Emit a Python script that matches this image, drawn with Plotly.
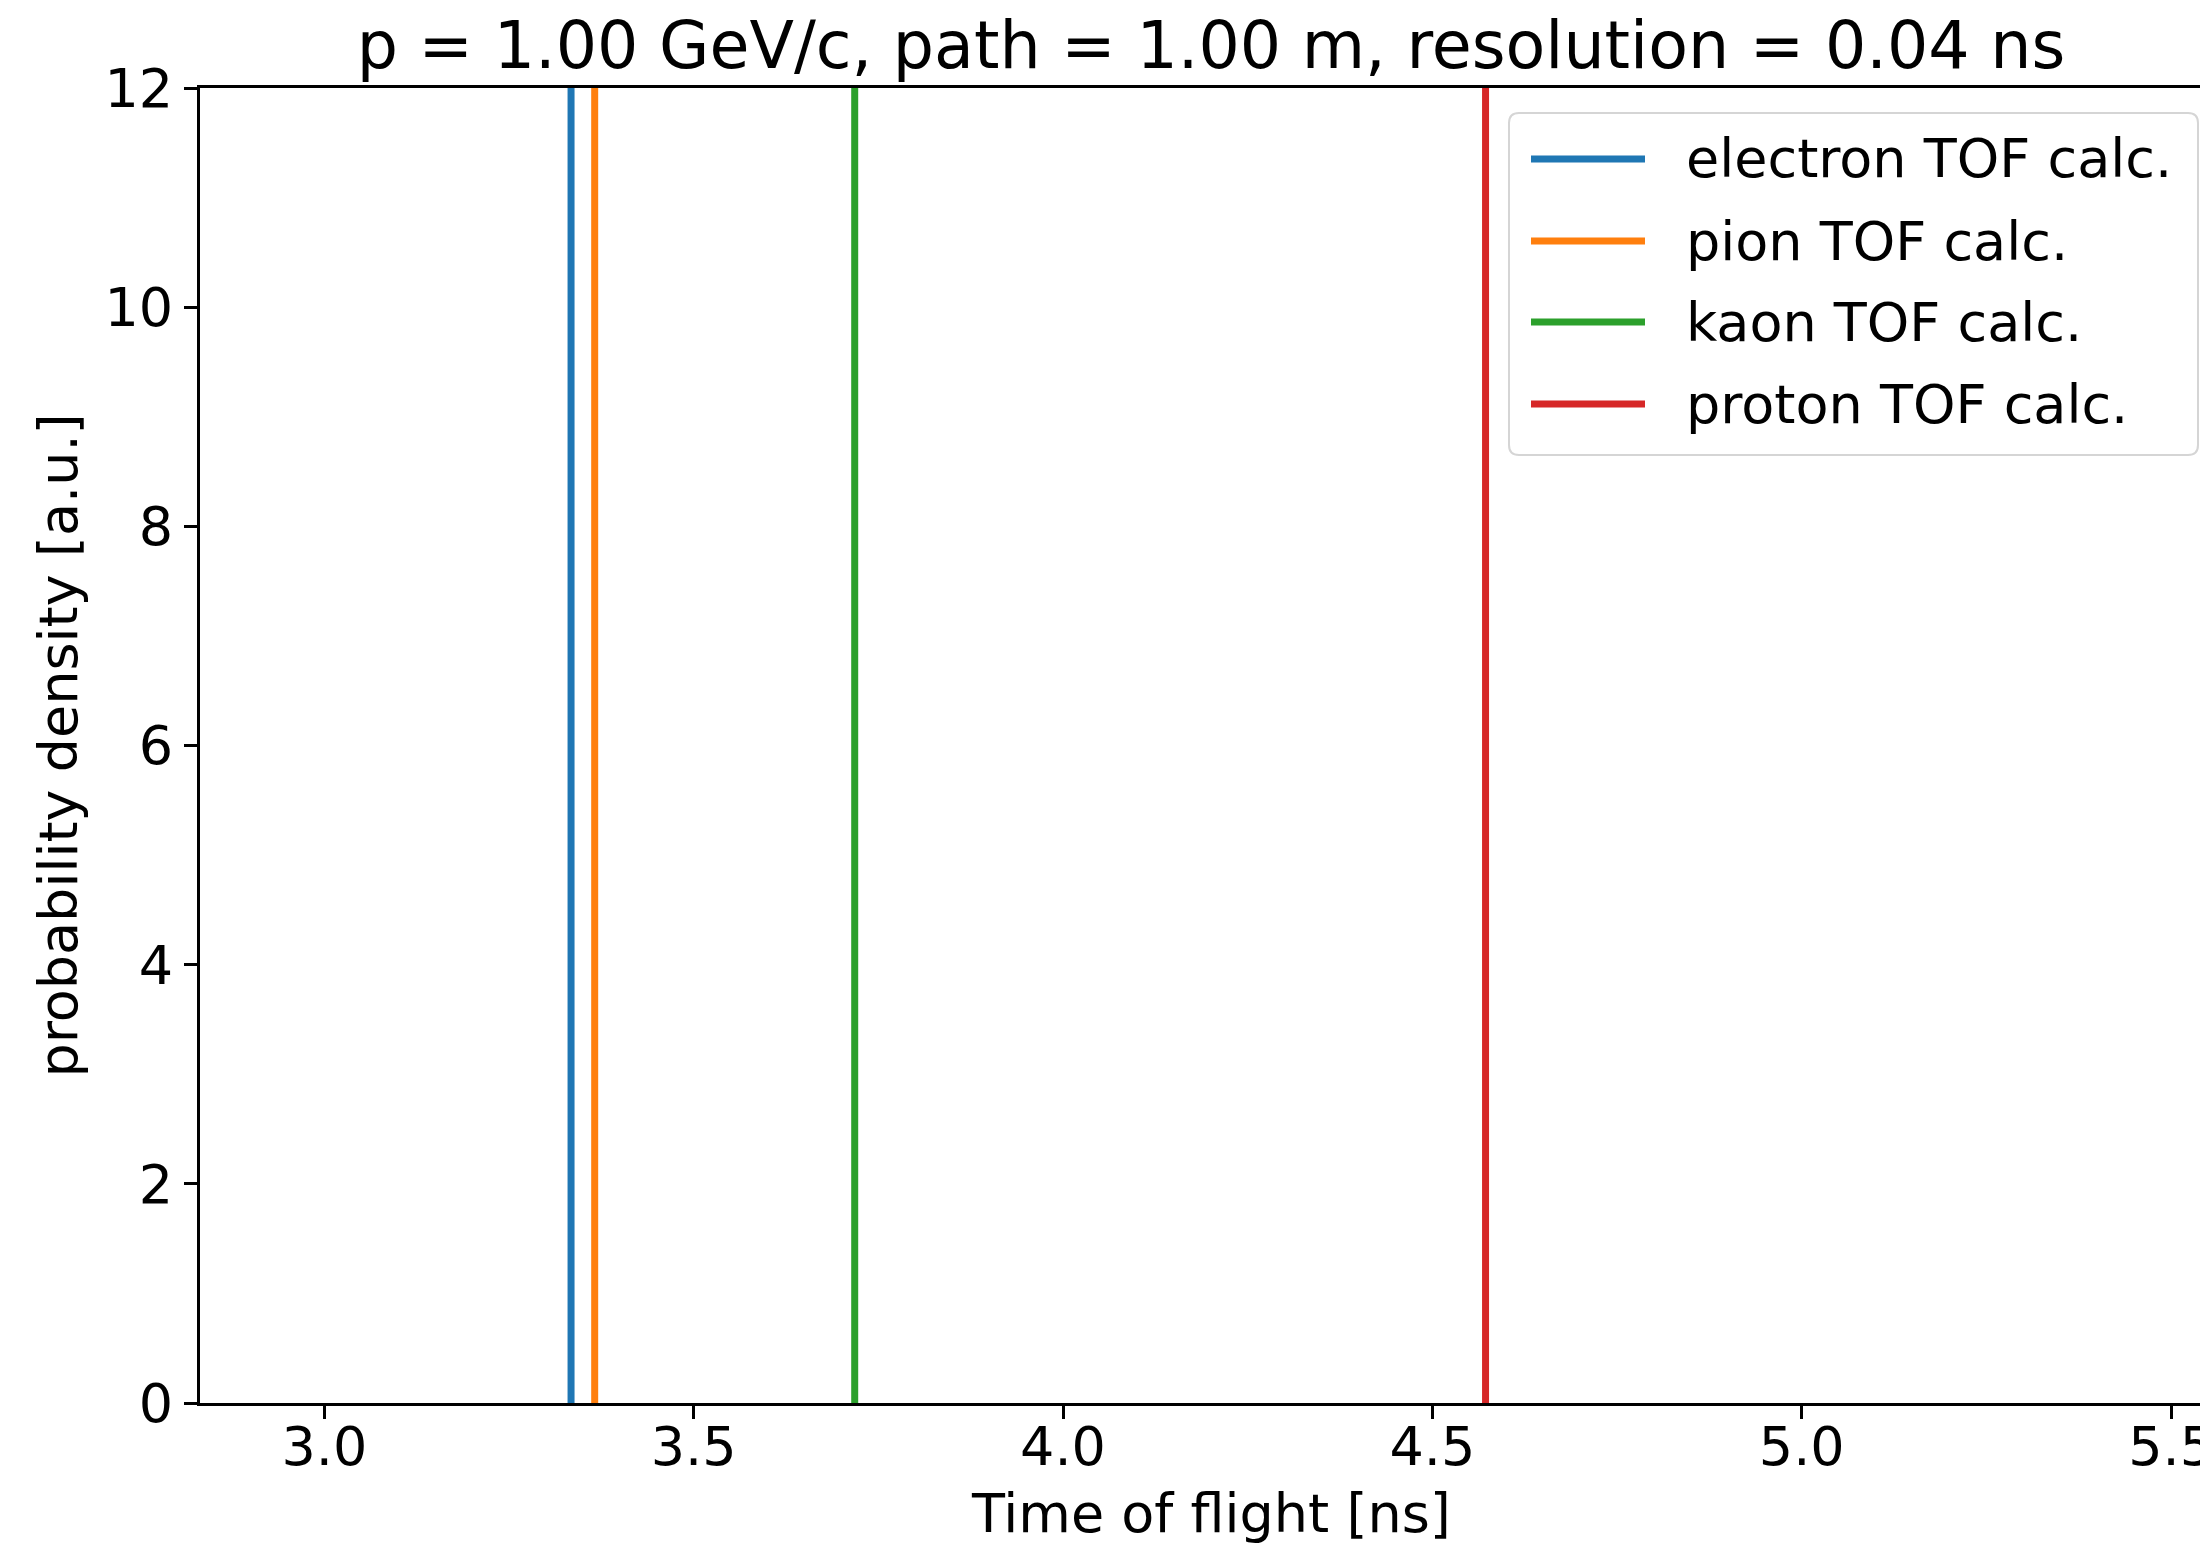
import plotly.graph_objects as go

# ---- data ----
particles = ["electron", "pion", "kaon", "proton"]
tof_ns = [3.334, 3.366, 3.718, 4.572]
line_colors = ["#1f77b4", "#ff7f0e", "#2ca02c", "#d62728"]
legend_labels = [f"{p} TOF calc." for p in particles]
density_span = [0, 12]
x_ticks = [3.0, 3.5, 4.0, 4.5, 5.0, 5.5]
y_ticks = [0, 2, 4, 6, 8, 10, 12]
title_text = "p = 1.00 GeV/c, path = 1.00 m, resolution = 0.04 ns"

# ---- geometry (page has an 8px body margin; work in screen coords) ----
O = 8
W, H = 2208 - O, 1543 - O
L, R, T, B = 200 - O, 2208 - O, 88 - O, 1403 - O
FONT = "DejaVu Sans"
FS = 54

def px(xs):
    return (xs - O - L) / (R - L)

def py(ys):
    return (B - (ys - O)) / (B - T)

fig = go.Figure()
for name, t, c in zip(legend_labels, tof_ns, line_colors):
    fig.add_trace(go.Scatter(
        x=[t, t], y=density_span, mode="lines", name=name,
        line=dict(color=c, width=7), showlegend=False, hoverinfo="name",
    ))

axis_common = dict(
    showgrid=False, zeroline=False, showline=True, linecolor="black",
    linewidth=3, ticks="outside", ticklen=13, tickwidth=3, tickcolor="black",
    tickfont=dict(family=FONT, size=FS, color="black"), automargin=False,
    ticklabeloverflow="allow",
)

fig.update_layout(
    width=W, height=H,
    margin=dict(l=L, r=W - R, t=T, b=H - B, autoexpand=False),
    paper_bgcolor="white", plot_bgcolor="white",
    font=dict(family=FONT, color="black"),
    title=dict(text=title_text, x=(1211 - O) / W, xref="container", xanchor="center",
               y=1 - 37 / H, yref="container", yanchor="middle",
               font=dict(family=FONT, size=65, color="black")),
    xaxis=dict(range=[2.8317, 5.550], tickvals=x_ticks,
               ticktext=[f"{v:.1f}" for v in x_ticks], mirror=True,
               ticklabelstandoff=-19, **axis_common),
    yaxis=dict(range=density_span, tickvals=y_ticks,
               ticktext=[str(v) for v in y_ticks],
               title=dict(text="probability density [a.u.]", standoff=10,
                          font=dict(family=FONT, size=FS, color="black")),
               **axis_common),
    showlegend=False,
)

# x-axis title
fig.add_annotation(text="Time of flight [ns]", xref="paper", yref="paper",
                   x=px(1211), y=py(1513), xanchor="center", yanchor="middle",
                   showarrow=False, font=dict(family=FONT, size=FS, color="black"))

# ---- legend box (matplotlib-style) ----
bx0, bx1, by0, by1, r = 1509, 2198, 113, 455, 10
path = (f"M {px(bx0 + r)},{py(by0)} L {px(bx1 - r)},{py(by0)} "
        f"Q {px(bx1)},{py(by0)} {px(bx1)},{py(by0 + r)} "
        f"L {px(bx1)},{py(by1 - r)} Q {px(bx1)},{py(by1)} {px(bx1 - r)},{py(by1)} "
        f"L {px(bx0 + r)},{py(by1)} Q {px(bx0)},{py(by1)} {px(bx0)},{py(by1 - r)} "
        f"L {px(bx0)},{py(by0 + r)} Q {px(bx0)},{py(by0)} {px(bx0 + r)},{py(by0)} Z")
fig.add_shape(type="path", path=path, xref="paper", yref="paper",
              line=dict(color="#d5d5d5", width=2),
              fillcolor="rgba(255,255,255,0.8)", layer="above")

row_y = [159, 241, 322, 404]
for yy, name, c in zip(row_y, legend_labels, line_colors):
    fig.add_shape(type="line", xref="paper", yref="paper",
                  x0=px(1531), x1=px(1645), y0=py(yy), y1=py(yy),
                  line=dict(color=c, width=7), layer="above")
    fig.add_annotation(text=name, xref="paper", yref="paper",
                       x=px(1684), y=py(yy), xanchor="left", yanchor="middle",
                       showarrow=False,
                       font=dict(family=FONT, size=FS, color="black"))

fig.write_html("out.html")
